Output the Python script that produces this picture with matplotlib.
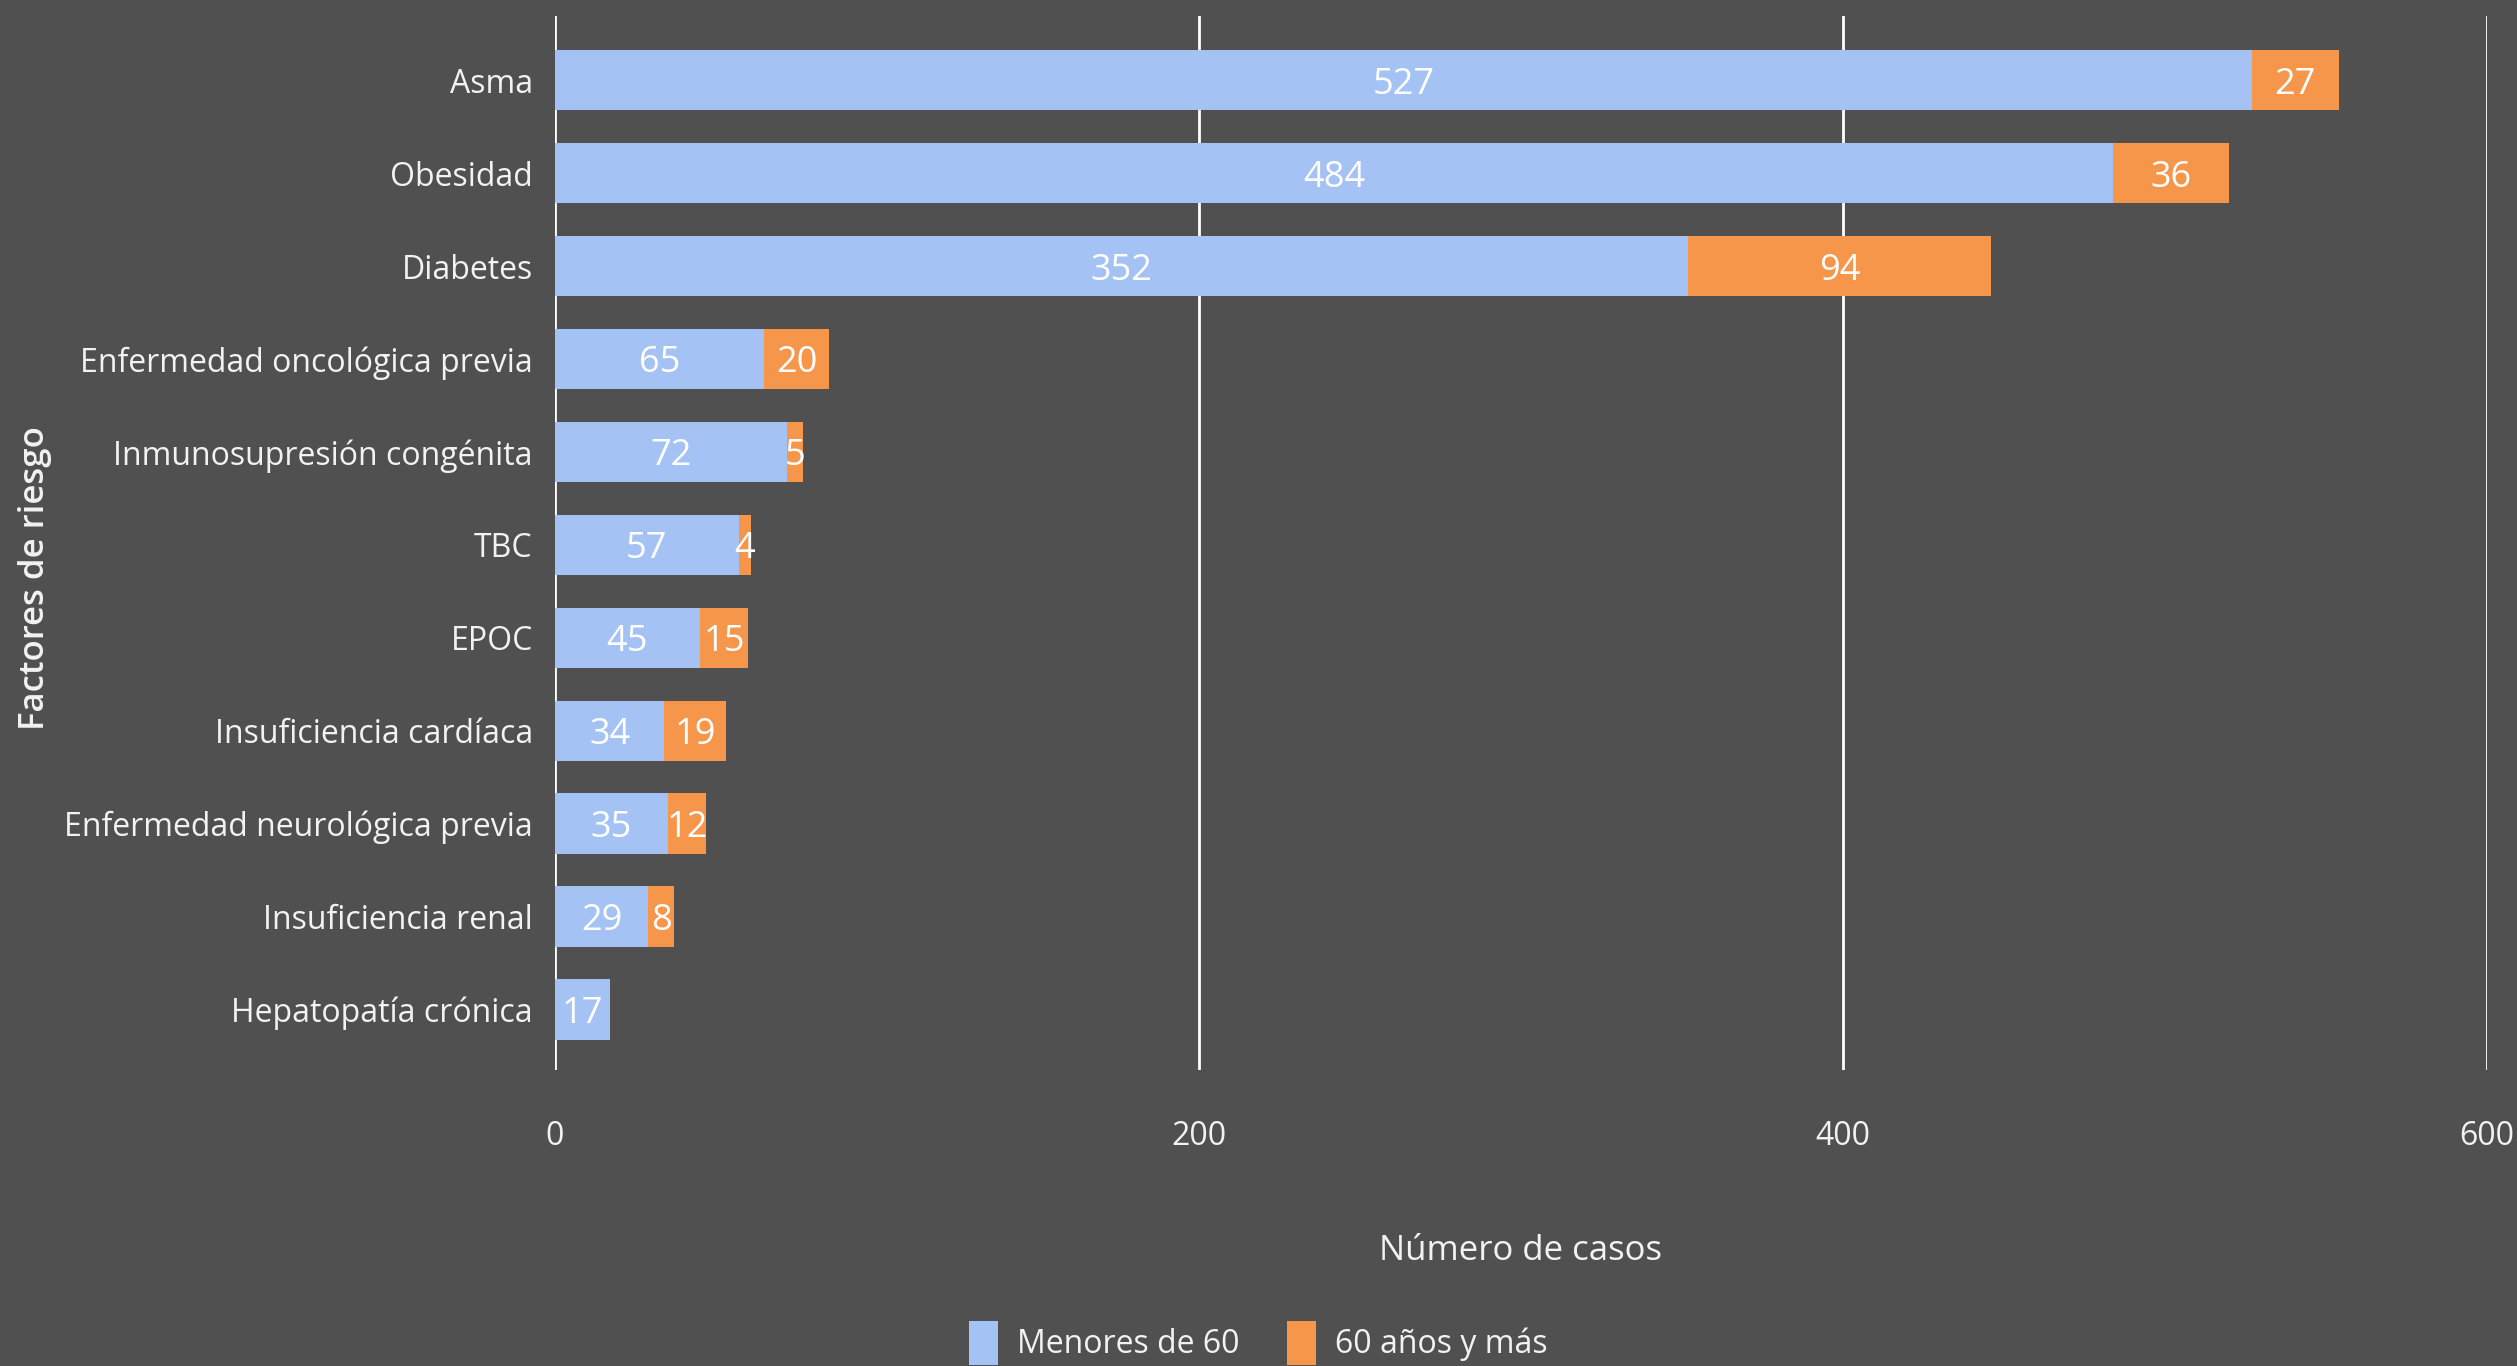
import matplotlib.pyplot as plt

categorias = ['Asma', 'Obesidad', 'Diabetes', 'Enfermedad oncológica previa',
              'Inmunosupresión congénita', 'TBC', 'EPOC', 'Insuficiencia cardíaca',
              'Enfermedad neurológica previa', 'Insuficiencia renal', 'Hepatopatía crónica']
menores_60 = [527, 484, 352, 65, 72, 57, 45, 34, 35, 29, 17]
mayores_60 = [27, 36, 94, 20, 5, 4, 15, 19, 12, 8, 0]
series = ['Menores de 60', '60 años y más']
ticks_x = [0, 200, 400, 600]

plt.rcParams['font.family'] = ['Open Sans', 'DejaVu Sans']

bg = '#505050'
azul = '#A4C2F4'
naranja = '#F6964A'
txt = '#F2F2F2'

fig = plt.figure(figsize=(25.17, 13.66), dpi=100, facecolor=bg)
ax = fig.add_axes([0.2205, 0.2167, 0.7675, 0.7716])
ax.set_facecolor(bg)

y = list(range(len(categorias)))
ax.barh(y, menores_60, height=0.65, color=azul, zorder=3, label=series[0])
ax.barh(y, mayores_60, left=menores_60, height=0.65, color=naranja, zorder=3, label=series[1])

for i in y:
    ax.text(menores_60[i] / 2, i, str(menores_60[i]), color='white', fontsize=26,
            ha='center', va='center_baseline', zorder=4)
    if mayores_60[i] > 0:
        ax.text(menores_60[i] + mayores_60[i] / 2, i, str(mayores_60[i]), color='white',
                fontsize=26, ha='center', va='center_baseline', zorder=4)

ax.set_xlim(0, 600)
ax.set_ylim(10.65, -0.69)
ax.set_xticks(ticks_x)
ax.set_yticks(y)
ax.set_yticklabels(categorias)
ax.tick_params(axis='both', length=0, colors=txt, labelsize=23)
ax.tick_params(axis='y', pad=16)
ax.tick_params(axis='x', pad=36)
for s in ax.spines.values():
    s.set_visible(False)
ax.grid(axis='x', color='white', linewidth=2, zorder=0)
ax.axvline(0, color='#333333', linewidth=2, zorder=1)

ax.set_xlabel('Número de casos', color=txt, fontsize=25, labelpad=58)
fig.text(0.014, 0.577, 'Factores de riesgo', rotation=90, color=txt, fontsize=25,
         fontweight='semibold', ha='center', va='center')

fig.legend(loc='lower center', bbox_to_anchor=(0.5, -0.02), ncol=2, frameon=False,
           fontsize=23, labelcolor=txt, handlelength=0.9, handleheight=1.7,
           columnspacing=1.5, handletextpad=0.6)

fig.savefig('out.png', dpi=100, facecolor=bg)
